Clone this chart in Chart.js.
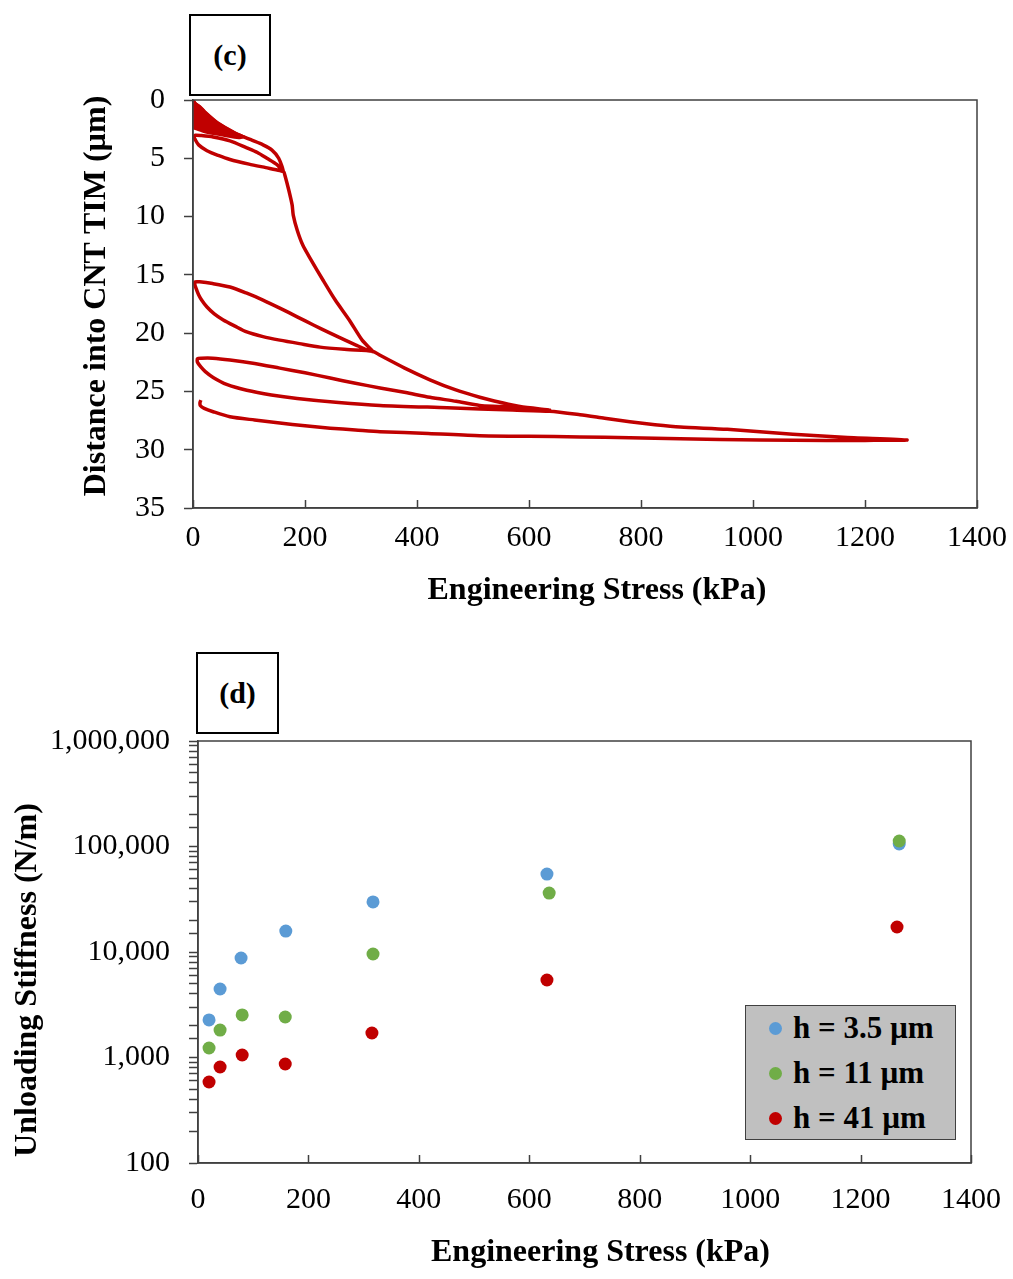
<!DOCTYPE html>
<html>
<head>
<meta charset="utf-8">
<script src="https://cdn.jsdelivr.net/npm/chart.js@4/dist/chart.umd.min.js"></script>
<style>
  html, body { margin: 0; padding: 0; background: #fff; }
  #page { position: relative; width: 1013px; height: 1279px; overflow: hidden;
          font-family: "Liberation Serif", "Times New Roman", serif; color: #000; }
  canvas { position: absolute; left: 0; }
  #c1 { top: 0; }
  #c2 { top: 625px; }
  .panel { position: absolute; box-sizing: border-box; border: 2px solid #000; background: #fff;
           font-weight: bold; font-size: 30px; display: flex; align-items: center; justify-content: center; }
  #legend { position: absolute; left: 745px; top: 1005px; width: 211px; height: 135px; box-sizing: border-box;
            background: #c0c0c0; border: 1.5px solid #404040; }
  .row { position: absolute; left: 0; height: 40px; display: flex; align-items: center;
         font-weight: bold; font-size: 31px; white-space: nowrap; }
  .dot { display: inline-block; width: 13px; height: 13px; border-radius: 50%; margin-left: 23px; margin-right: 11px; }
</style>
</head>
<body>
<div id="page">
  <canvas id="c1" width="1013" height="625"></canvas>
  <canvas id="c2" width="1013" height="654"></canvas>
  <div class="panel" style="left:189px;top:14px;width:82px;height:82px;">(c)</div>
  <div class="panel" style="left:196px;top:652px;width:83px;height:82px;">(d)</div>
  <div id="legend"></div>
</div>
<script>
// ---- (c) stress vs. depth, cyclic loading ----
// first small cycles (20/40/80 kPa) form a dense band near the origin
const bandStress = [0, 4, 12.5, 21, 44, 75, 90, 84, 69, 45, 21, 4, 0];
const bandDepth  = [0, 0.3, 0.6, 1.03, 1.97, 2.83, 3.15, 3.23, 3.15, 2.95, 2.72, 2.45, 2.4];

const loadTo160Stress = [90, 105, 125, 141, 153, 161];
const loadTo160Depth  = [3.15, 3.45, 3.85, 4.3, 5.0, 6.1];
const cycle160Stress = [150, 132, 115, 96, 66, 36, 15, 4, 2, 4, 10, 25, 45, 66, 100, 130, 155, 162];
const cycle160Depth  = [5.55, 5.0, 4.5, 4.1, 3.5, 3.17, 3.05, 3.02, 3.15, 3.4, 3.85, 4.35, 4.75, 5.1, 5.5, 5.8, 6.05, 6.15];

const loadTo320Stress = [164, 171, 177, 179, 186, 196, 211, 232, 254, 279, 302, 321];
const loadTo320Depth  = [6.43, 7.72, 9.0, 9.87, 11.15, 12.44, 13.73, 15.44, 17.16, 18.87, 20.6, 21.6];
const cycle320Stress = [290, 245, 215, 186, 155, 125, 95, 66, 35, 12, 4, 3,
                        5, 10, 16, 25, 38, 54, 75, 96, 125, 155, 190, 227, 275, 321];
const cycle320Depth  = [21.0, 20.0, 19.3, 18.6, 17.85, 17.16, 16.55, 16.04, 15.75, 15.6, 15.6, 15.75,
                        16.1, 16.7, 17.2, 17.76, 18.35, 18.87, 19.4, 19.9, 20.3, 20.6, 20.9, 21.2, 21.4, 21.55];

const loadTo640Stress = [334, 378, 423, 468, 512, 550, 584, 637];
const loadTo640Depth  = [21.9, 23.0, 24.0, 24.85, 25.5, 25.95, 26.3, 26.6];
const cycle640Stress = [600, 550, 512, 470, 423, 380, 334, 290, 245, 200, 155, 110, 66, 35, 15, 8,
                        8, 14, 22, 36, 60, 96, 140, 186, 260, 334, 454, 571, 637];
const cycle640Depth  = [26.5, 26.3, 26.2, 25.85, 25.5, 25.1, 24.7, 24.3, 23.85, 23.4, 23.0, 22.6, 22.3, 22.15, 22.15, 22.2,
                        22.5, 22.9, 23.3, 23.8, 24.4, 24.9, 25.3, 25.6, 25.95, 26.2, 26.4, 26.6, 26.7];

const loadTo1275Stress = [691, 735, 780, 825, 870, 954, 1071, 1161, 1275];
const loadTo1275Depth  = [27.0, 27.3, 27.6, 27.85, 28.05, 28.25, 28.68, 28.93, 29.17];
const finalUnloadStress = [1200, 1132, 1012, 870, 780, 691, 600, 512, 420, 334, 290, 245, 200, 155, 110, 66, 36, 20, 13, 12.5, 14];
const finalUnloadDepth  = [29.2, 29.2, 29.17, 29.05, 28.98, 28.9, 28.85, 28.8, 28.6, 28.45, 28.3, 28.15, 27.95, 27.7, 27.45, 27.17, 26.74, 26.45, 26.2, 25.95, 25.75];

// ---- (d) unloading stiffness vs. stress ----
const stress35 = [20, 40, 78, 159, 317, 632, 1270];
const stiff35  = [2270, 4460, 8770, 15800, 29800, 54800, 105600];
const stress11 = [20, 40, 80, 158, 317, 636, 1270];
const stiff11  = [1230, 1820, 2530, 2420, 9570, 36200, 112700];
const stress41 = [20, 40, 80, 158, 315, 632, 1266];
const stiff41  = [586, 813, 1056, 868, 1707, 5430, 17260];
const seriesLabels = ['h = 3.5 µm', 'h = 11 µm', 'h = 41 µm'];
const seriesColors = ['#5b9bd5', '#70ad47', '#c00000'];

const curveColor = '#c00000';
const axisColor = '#404040';
const FONT = "'Liberation Serif', 'Times New Roman', serif";
Chart.defaults.font.family = FONT;
Chart.defaults.color = '#000';

const toXY = (xs, ys) => xs.map((x, i) => ({ x: x, y: ys[i] }));
const curvePoints = [].concat(
  toXY(bandStress.slice(0, 7), bandDepth.slice(0, 7)),
  toXY(loadTo160Stress, loadTo160Depth).slice(1),
  toXY(cycle160Stress, cycle160Depth),
  toXY(loadTo320Stress, loadTo320Depth),
  toXY(cycle320Stress, cycle320Depth),
  toXY(loadTo640Stress, loadTo640Depth),
  toXY(cycle640Stress, cycle640Depth),
  toXY(loadTo1275Stress, loadTo1275Depth),
  toXY(finalUnloadStress, finalUnloadDepth)
);

// box around the plot area, plus inward tick marks on the x axis
const framePlugin = {
  id: 'frame',
  afterDraw(chart) {
    const { ctx, chartArea: a } = chart;
    const xs = chart.scales.x;
    ctx.save();
    ctx.strokeStyle = axisColor;
    ctx.lineWidth = 1.5;
    ctx.strokeRect(a.left, a.top, a.right - a.left, a.bottom - a.top);
    ctx.beginPath();
    xs.ticks.forEach(t => {
      const px = Math.round(xs.getPixelForValue(t.value)) + 0.5;
      ctx.moveTo(px, a.bottom);
      ctx.lineTo(px, a.bottom - 8);
    });
    ctx.stroke();
    ctx.restore();
  }
};

const tickFont = { size: 30 };
const titleFont = { size: 32, weight: 'bold' };
const plainNumber = v => String(v);
// the right-hand margin is set by the layout padding alone
const fixedXAxis = h => s => { s.height = h; s.paddingLeft = 0; s.paddingRight = 0; };

new Chart(document.getElementById('c1'), {
  type: 'line',
  data: {
    datasets: [
      { data: curvePoints, borderColor: curveColor, borderWidth: 3.5, pointRadius: 0, tension: 0.25, fill: false },
      { data: toXY(bandStress, bandDepth), borderColor: curveColor, backgroundColor: curveColor,
        borderWidth: 3, pointRadius: 0, tension: 0.2, fill: 'shape' }
    ]
  },
  options: {
    responsive: false, animation: false, events: [],
    layout: { padding: { top: 100, right: 36, left: 0, bottom: 0 } },
    plugins: { legend: { display: false }, tooltip: { enabled: false } },
    scales: {
      x: {
        type: 'linear', min: 0, max: 1400,
        ticks: { stepSize: 200, padding: 12, font: tickFont, color: '#000', maxRotation: 0, callback: plainNumber },
        grid: { drawOnChartArea: false, drawTicks: false },
        border: { color: axisColor, width: 1.5 },
        title: { display: true, text: '   Engineering Stress (kPa)', font: titleFont, color: '#000', padding: { top: 0, bottom: 15 } },
        afterFit: fixedXAxis(117)
      },
      y: {
        type: 'linear', reverse: true, min: 0, max: 35,
        ticks: { stepSize: 5, padding: 19, font: tickFont, color: '#000' },
        grid: { drawOnChartArea: false, drawTicks: true, tickLength: 9, color: axisColor, tickWidth: 1.5 },
        border: { color: axisColor, width: 1.5 },
        title: { display: true, text: '  Distance into CNT TIM (µm)', font: titleFont, color: '#000', padding: { top: 78, bottom: 0 } },
        afterFit(s) { s.width = 193; }
      }
    }
  },
  plugins: [framePlugin]
});

const stiffChart = new Chart(document.getElementById('c2'), {
  type: 'scatter',
  data: {
    datasets: [
      { label: seriesLabels[0], data: toXY(stress35, stiff35), backgroundColor: seriesColors[0], order: 3 },
      { label: seriesLabels[1], data: toXY(stress11, stiff11), backgroundColor: seriesColors[1], order: 2 },
      { label: seriesLabels[2], data: toXY(stress41, stiff41), backgroundColor: seriesColors[2], order: 1 }
    ].map(d => Object.assign(d, { pointRadius: 6.5, borderWidth: 0, pointBorderWidth: 0 }))
  },
  options: {
    responsive: false, animation: false, events: [],
    layout: { padding: { top: 116, right: 42, left: 0, bottom: 0 } },
    plugins: { legend: { display: false }, tooltip: { enabled: false } },
    scales: {
      x: {
        type: 'linear', min: 0, max: 1400,
        ticks: { stepSize: 200, padding: 19, font: tickFont, color: '#000', maxRotation: 0, callback: plainNumber },
        grid: { drawOnChartArea: false, drawTicks: false },
        border: { color: axisColor, width: 1.5 },
        title: { display: true, text: '    Engineering Stress (kPa)', font: titleFont, color: '#000', padding: { top: 0, bottom: 7 } },
        afterFit: fixedXAxis(116)
      },
      y: {
        type: 'logarithmic', min: 100, max: 1000000,
        ticks: {
          autoSkip: false, padding: 19, font: tickFont, color: '#000',
          callback(v) {
            const e = Math.log10(v);
            return Math.abs(e - Math.round(e)) < 1e-9 ? Number(v).toLocaleString('en-US') : '';
          }
        },
        grid: { drawOnChartArea: false, drawTicks: true, tickLength: 9, color: axisColor, tickWidth: 1.5 },
        border: { color: axisColor, width: 1.5 },
        title: { display: true, text: 'Unloading Stiffness (N/m)       ', font: titleFont, color: '#000', padding: { top: 9, bottom: 0 } },
        afterFit(s) { s.width = 198; }
      }
    }
  },
  plugins: [framePlugin]
});

// legend box for panel (d), built from the datasets
const legendEl = document.getElementById('legend');
stiffChart.data.datasets.forEach((ds, i) => {
  const row = document.createElement('div');
  row.className = 'row';
  row.style.top = (2 + i * 45) + 'px';
  const dot = document.createElement('span');
  dot.className = 'dot';
  dot.style.background = ds.backgroundColor;
  const txt = document.createElement('span');
  txt.textContent = ds.label;
  row.appendChild(dot);
  row.appendChild(txt);
  legendEl.appendChild(row);
});
</script>
</body>
</html>
